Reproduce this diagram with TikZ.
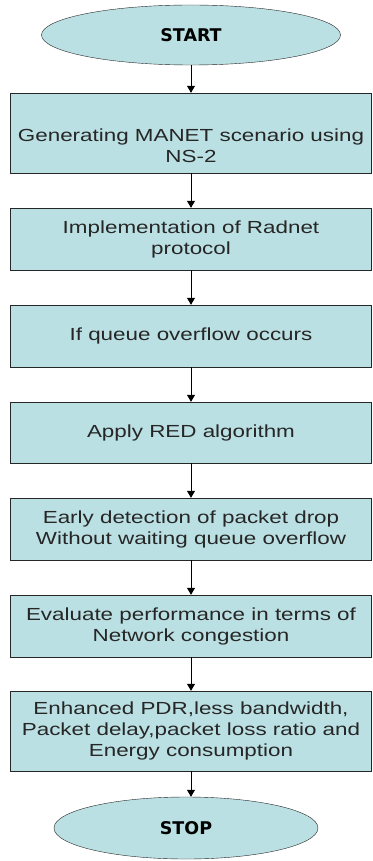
\documentclass[tikz,border=0pt]{standalone}
\usepackage{xcolor}
\usepackage{fontspec}
\usepackage{tikz}
\usetikzlibrary{shapes.geometric,arrows.meta}

\newfontfamily\stepfont[FakeStretch=1.28]{Liberation Sans}
\newfontfamily\termfont{DejaVu Sans}
\definecolor{flowfill}{RGB}{187,224,227}

\begin{document}
\begin{tikzpicture}[x=1pt,y=-1pt,
                    blk/.style={rectangle,draw=black!85,fill=flowfill,
                    minimum width=361pt,
                    minimum height=#1pt,
                    inner sep=2pt,align=center,text=black!85,
                    font=\stepfont\fontsize{17.5}{21}\selectfont},
                    trm/.style n args={2}{ellipse,draw=black!85,fill=flowfill,
                    minimum width=#1pt,
                    minimum height=#2pt,
                    inner sep=0pt,
                    font=\termfont\bfseries\fontsize{17.5}{21}\selectfont},
                    arr/.style={draw=black,line width=1pt,-{Triangle[length=7pt,width=8pt]}}]
    \useasboundingbox (0,0) rectangle (372,861);
    \node[trm={299}{60}](n000) at (191,35) {START};
    \node[blk={80}](n001) at (191,133) {\mbox{}\\[17pt]Generating MANET scenario using\\NS-2};
    \node[blk={62}](n002) at (191,239) {Implementation of Radnet\\protocol};
    \node[blk={62}](n003) at (191,336) {If queue overflow occurs};
    \node[blk={61}](n004) at (191,432.5) {Apply RED algorithm};
    \node[blk={62}](n005) at (191,529) {Early detection of packet drop\\Without waiting queue overflow};
    \node[blk={62}](n006) at (191,626) {Evaluate performance in terms of\\Network congestion};
    \node[blk={80}](n007) at (191,731) {Enhanced PDR,less bandwidth,\\Packet delay,packet loss ratio and\\Energy consumption};
    \node[trm={264}{62}](n008) at (186,828) {STOP};
    \draw[arr] (n000) -- (n001);
    \draw[arr] (n001) -- (n002);
    \draw[arr] (n002) -- (n003);
    \draw[arr] (n003) -- (n004);
    \draw[arr] (n004) -- (n005);
    \draw[arr] (n005) -- (n006);
    \draw[arr] (n006) -- (n007);
    \draw[arr] (n007.south) -- (n007.south |- n008.north);
\end{tikzpicture}
\end{document}
